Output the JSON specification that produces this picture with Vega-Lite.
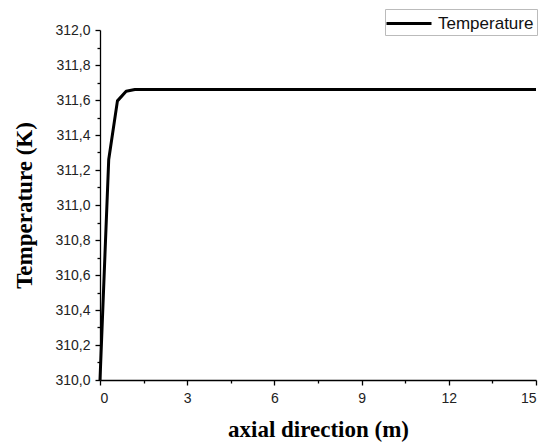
{
  "$schema": "https://vega.github.io/schema/vega-lite/v6.json",
  "width": 436,
  "height": 350,
  "autosize": "none",
  "padding": {"left": 100, "top": 30, "right": 8, "bottom": 64},
  "background": "white",
  "config": {
    "view": {"stroke": null},
    "axis": {
      "grid": false,
      "domainColor": "black",
      "domainWidth": 1.3,
      "tickColor": "black",
      "tickWidth": 1.3,
      "labelFont": "Liberation Sans",
      "labelFontSize": 14,
      "labelColor": "#222",
      "titleFont": "Liberation Serif",
      "titleFontSize": 23,
      "titleFontWeight": "bold",
      "titleColor": "black"
    }
  },
  "data": {
    "values": [
      {"x": 0, "t": 310.0, "s": "Temperature"},
      {"x": 0.3, "t": 311.26, "s": "Temperature"},
      {"x": 0.6, "t": 311.595, "s": "Temperature"},
      {"x": 0.9, "t": 311.65, "s": "Temperature"},
      {"x": 1.2, "t": 311.66, "s": "Temperature"},
      {"x": 1.5, "t": 311.66, "s": "Temperature"},
      {"x": 3, "t": 311.66, "s": "Temperature"},
      {"x": 6, "t": 311.66, "s": "Temperature"},
      {"x": 9, "t": 311.66, "s": "Temperature"},
      {"x": 12, "t": 311.66, "s": "Temperature"},
      {"x": 15, "t": 311.66, "s": "Temperature"}
    ]
  },
  "layer": [
    {
      "mark": {"type": "line", "strokeWidth": 3, "strokeJoin": "round"},
      "encoding": {
        "x": {
          "field": "x", "type": "quantitative",
          "scale": {"domain": [0, 15], "nice": false},
          "axis": {"values": [0, 3, 6, 9, 12, 15], "tickSize": 5, "labelPadding": 6, "labelFontSize": 14, "title": "axial direction (m)", "titlePadding": 13}
        },
        "y": {
          "field": "t", "type": "quantitative",
          "scale": {"domain": [310, 312], "nice": false, "zero": false},
          "axis": {
            "values": [310, 310.2, 310.4, 310.6, 310.8, 311, 311.2, 311.4, 311.6, 311.8, 312],
            "labelExpr": "replace(format(datum.value, '.1f'), '.', ',')",
            "tickSize": 5, "labelPadding": 5, "labelFontSize": 14,
            "title": "Temperature (K)", "titlePadding": 18
          }
        },
        "color": {
          "field": "s", "type": "nominal",
          "scale": {"range": ["black"]},
          "legend": {
            "title": null,
            "orient": "none",
            "legendX": 285,
            "legendY": -21,
            "symbolType": "M-1.3,0H3.2",
            "symbolSize": 400,
            "symbolStrokeWidth": 3,
            "labelFont": "Liberation Sans",
            "labelFontSize": 17,
            "labelColor": "#111",
            "strokeColor": "#bbb",
            "padding": 3,
            "labelOffset": 27
          }
        }
      }
    },
    {
      "mark": {"type": "line", "opacity": 0},
      "encoding": {
        "x": {
          "field": "x", "type": "quantitative",
          "axis": {"orient": "bottom", "values": [1.5, 4.5, 7.5, 10.5, 13.5], "tickSize": 3, "labels": false, "domain": false, "title": null}
        },
        "y": {
          "field": "t", "type": "quantitative",
          "axis": {"orient": "left", "values": [310.1, 310.3, 310.5, 310.7, 310.9, 311.1, 311.3, 311.5, 311.7, 311.9], "tickSize": 3, "labels": false, "domain": false, "title": null}
        }
      }
    }
  ],
  "resolve": {"axis": {"x": "independent", "y": "independent"}}
}
